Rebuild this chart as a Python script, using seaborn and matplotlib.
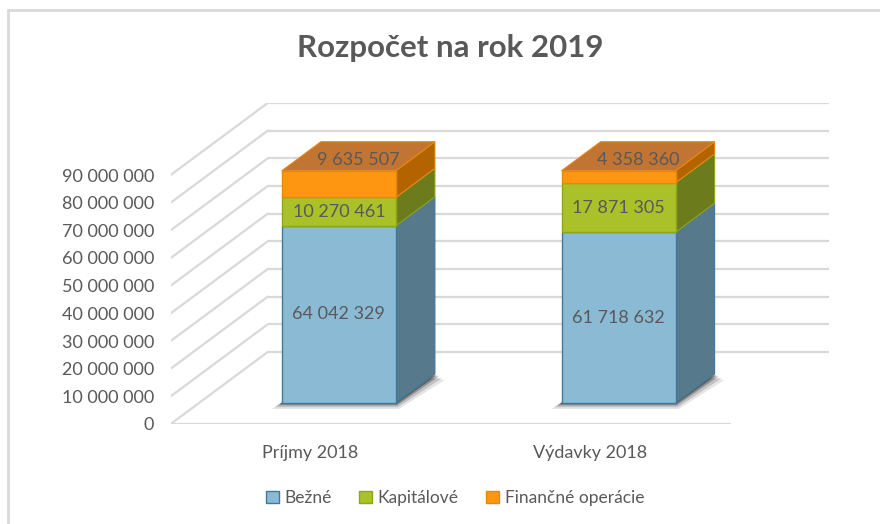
import numpy as np
import pandas as pd
import matplotlib
matplotlib.use("Agg")
import matplotlib.pyplot as plt
import matplotlib.transforms as mtransforms
from matplotlib.patches import Polygon, Patch
from matplotlib.lines import Line2D
import seaborn as sns

# ---- data ----
categories = ["Príjmy 2018", "Výdavky 2018"]
series_names = ["Bežné", "Kapitálové", "Finančné operácie"]
bezne = [64042329, 61718632]
kapitalove = [10270461, 17871305]
financne = [9635507, 4358360]
ytick_values = [0, 10000000, 20000000, 30000000, 40000000, 50000000,
                60000000, 70000000, 80000000, 90000000]
title_text = "Rozpočet na rok 2019"

def fmt(v):
    return f"{v:,}".replace(",", " ")

# ---- styles ----
front_cols = ["#8BBAD5", "#AAC12A", "#FF9612"]
side_cols = ["#56798B", "#6C7C1C", "#B36300"]
edge_cols = ["#3F78A0", "#8FA51A", "#E8870E"]
top_col = "#C27532"
grid_col = "#D9D9D9"
text_col = "#595959"

sns.set_theme(style="white")
plt.rcParams["font.family"] = ["Lato", "DejaVu Sans"]

W, H = 880, 524
fig = plt.figure(figsize=(W / 100, H / 100), dpi=100)

# pixel geometry of the 3D frame
px_left, px_floor = 170.7, 424.0      # front floor-left corner
px_per_x = 279.7
DX = 97 / px_per_x                     # full depth shift in x units
px_top = 103.0
DY_px = 72.0
val_per_px = 90e6 / (px_floor - DY_px - px_top)
DY = DY_px * val_per_px
xmin = -0.5
xmax = xmin + (828.7 - px_left) / px_per_x
ytop = 90e6 + DY

ax = fig.add_axes([px_left / W, (H - px_floor) / H,
                   (xmax - xmin) * px_per_x / W, (px_floor - px_top) / H])
ax.set_xlim(xmin, xmax)
ax.set_ylim(0, ytop)
for s in ax.spines.values():
    s.set_visible(False)

# walls / gridlines
for v in ytick_values:
    ax.plot([xmin + DX, xmax], [v + DY, v + DY], color=grid_col, lw=1.6,
            zorder=1, solid_capstyle="butt")
    ax.plot([xmin, xmin + DX], [v, v + DY], color=grid_col, lw=1.6, zorder=1)
ax.plot([xmin, 1.5], [0, 0], color=grid_col, lw=1.6, zorder=1)

# bar placement in depth
d0 = 21 / 72
bd = 29 / 72
bar_w = 114 / px_per_x
bdx, bdy = bd * DX, bd * DY
shift = mtransforms.Affine2D().translate(d0 * DX, d0 * DY)
tr = shift + ax.transData

df = pd.DataFrame({"cat": categories, "Bežné": bezne,
                   "Kapitálové": kapitalove, "Finančné operácie": financne})

# shadows on floor
for i in range(len(categories)):
    x0 = i - bar_w / 2
    for k, a in [(10, 0.10), (7, 0.15), (4, 0.25), (2, 0.35)]:
        ex = k / px_per_x
        ey = k * val_per_px * 0.6
        poly = Polygon([(x0 - ex, -ey), (x0 + bar_w + ex * 0.3, -ey),
                        (x0 + bar_w + bdx + ex, bdy - ey),
                        (x0 + bdx + ex, bdy + ey)],
                       closed=True, facecolor="#000000", alpha=a,
                       edgecolor="none", transform=tr, zorder=2)
        ax.add_patch(poly)

# front faces via seaborn stacked
bottoms = np.zeros(len(categories))
seg_patches = []
for j, name in enumerate(series_names):
    n_before = len(ax.patches)
    sns.barplot(data=df, x="cat", y=name, ax=ax, color=front_cols[j],
                bottom=bottoms.copy(), width=bar_w, edgecolor=edge_cols[j],
                linewidth=1.0, saturation=1, transform=tr, zorder=4,
                errorbar=None)
    seg_patches.append(ax.patches[n_before:])
    bottoms = bottoms + df[name].to_numpy()

ax.set_xlim(xmin, xmax)
ax.set_ylim(0, ytop)

# side and top faces
for j, patches in enumerate(seg_patches):
    for i, p in enumerate(patches):
        x0, y0, w, h = p.get_x(), p.get_y(), p.get_width(), p.get_height()
        side = Polygon([(x0 + w, y0), (x0 + w + bdx, y0 + bdy),
                        (x0 + w + bdx, y0 + h + bdy), (x0 + w, y0 + h)],
                       closed=True, facecolor=side_cols[j],
                       edgecolor=edge_cols[j], lw=0.8, transform=tr, zorder=3)
        ax.add_patch(side)
        if j == len(seg_patches) - 1:
            top = Polygon([(x0, y0 + h), (x0 + w, y0 + h),
                           (x0 + w + bdx, y0 + h + bdy), (x0 + bdx, y0 + h + bdy)],
                          closed=True, facecolor=top_col,
                          edgecolor=edge_cols[j], lw=0.8, transform=tr, zorder=3)
            ax.add_patch(top)
            ax.text(x0 + w / 2 + bdx / 2, y0 + h + bdy / 2 - 1.5e6,
                    fmt(df[series_names[j]][i]), ha="center", va="center",
                    fontsize=13, color=text_col, transform=tr, zorder=6)
        else:
            ax.text(x0 + w / 2, y0 + h / 2, fmt(df[series_names[j]][i]),
                    ha="center", va="center", fontsize=13, color=text_col,
                    transform=tr, zorder=6)

# axes ticks
ax.set_yticks(ytick_values)
ax.set_yticklabels([fmt(v) for v in ytick_values], fontsize=13, color=text_col)
ax.set_xticks(range(len(categories)))
ax.set_xticklabels(categories, fontsize=13, color=text_col)
ax.tick_params(axis="y", length=0, pad=12)
ax.tick_params(axis="x", length=0, pad=15)
ax.set_xlabel("")
ax.set_ylabel("")
ax.grid(False)

# title
fig.text(450 / W, 1 - 48 / H, title_text, ha="center", va="center",
         fontsize=22.5, fontweight="bold", color=text_col)

# legend
handles = [Patch(facecolor=front_cols[j], edgecolor=edge_cols[j], lw=1.0)
           for j in range(3)]
leg = fig.legend(handles, series_names, loc="center", ncol=3,
                 bbox_to_anchor=(455 / W, 1 - 498 / H), frameon=False,
                 fontsize=12.5, handlelength=0.75, handleheight=0.75,
                 handletextpad=0.3, columnspacing=1.6)
for t in leg.get_texts():
    t.set_color(text_col)

# chart border (top and left visible)
fig.add_artist(Line2D([8 / W, 1], [1 - 10 / H, 1 - 10 / H], color=grid_col,
                      lw=2, transform=fig.transFigure))
fig.add_artist(Line2D([8 / W, 8 / W], [0, 1 - 10 / H], color=grid_col,
                      lw=2, transform=fig.transFigure))

fig.savefig("out.png", dpi=100)
